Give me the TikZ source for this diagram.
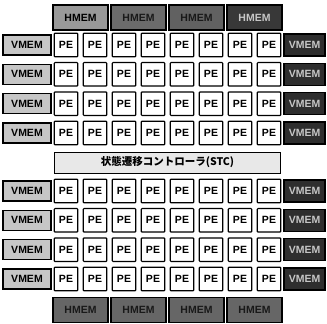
\documentclass[tikz,border=0pt]{standalone}
\usepackage{fontspec}
\setmainfont{Liberation Sans}
\newfontfamily\cjk{Noto Sans CJK JP}
\begin{document}
\begin{tikzpicture}[x=1pt,y=-1pt,
 box/.style={draw=black, line width=1.2pt, inner sep=0pt, font=\bfseries\fontsize{10.5}{12}\selectfont},
 pebox/.style={box, fill=white, rounded corners=0.8pt, minimum width=23.5pt, minimum height=23.5pt},
 vleft/.style={box, fill=gray!45, minimum width=48pt, minimum height=20pt},
 vright/.style={box, fill=black!82, text=gray!45, minimum width=41pt, minimum height=22pt},
 hmem/.style={box, fill=black!60, text=black!90, minimum width=55pt, minimum height=25pt},
 stcbox/.style={box, line width=0.8pt, fill=gray!18, minimum width=226.5pt, minimum height=21pt, font=\bfseries\fontsize{10.5}{12}\selectfont}]
\useasboundingbox (0,0) rectangle (327,324);
\foreach \r/\y in {1/45,2/74.3,3/103.7,4/133,5/191,6/220.3,7/249.7,8/279} {
  \node[vleft] (vl\r) at (27,\y) {VMEM};
  \foreach \c in {1,...,8} {
    \node[pebox] (pe\r-\c) at ({66+29*(\c-1)},\y) {PE};
  }
  \node[vright] (vr\r) at (304.5,\y) {VMEM};
}
\foreach \k/\f/\t in {1/black!40/black,2/black!58/black!90,3/black!62/black!90,4/black!78/gray!45} {
  \node[hmem, fill=\f, text=\t] (ht\k) at ({80.5+58*(\k-1)},17.5) {HMEM};
}
\foreach \k in {1,...,4} {
  \node[hmem] (hb\k) at ({80.5+58*(\k-1)},310) {HMEM};
}
\node[stcbox] (stc) at (167.5,162.5) {\cjk 状態遷移コントローラ(STC)};
\end{tikzpicture}
\end{document}
